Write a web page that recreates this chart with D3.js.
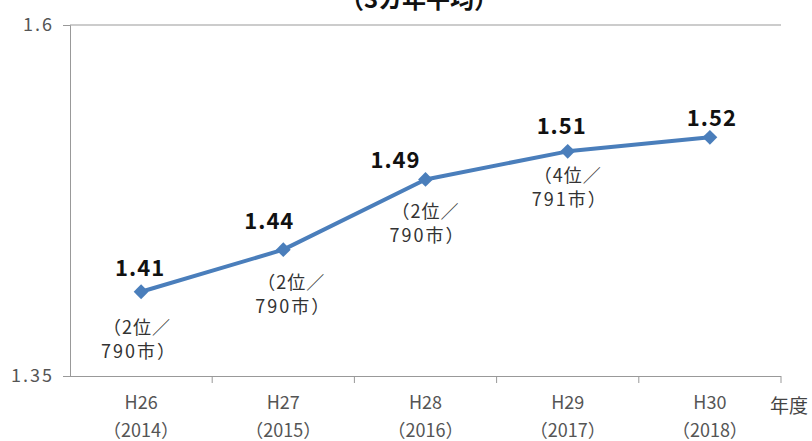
<!DOCTYPE html>
<html><head><meta charset="utf-8">
<script src="https://cdn.jsdelivr.net/npm/d3@7"></script>
<style>
html,body{margin:0;padding:0;background:#fff;}
svg{display:block;font-family:"Noto Sans CJK JP","Noto Sans",sans-serif;}
</style></head>
<body>
<svg id="chart" width="812" height="441"></svg>
<script>
const categories = ["H26", "H27", "H28", "H29", "H30"];
const yearLabels = ["（2014）", "（2015）", "（2016）", "（2017）", "（2018）"];
const values = [1.41, 1.44, 1.49, 1.51, 1.52];
const rankLine1 = ["（2位／", "（2位／", "（2位／", "（4位／", ""];
const rankLine2 = ["790市）", "790市）", "790市）", "791市）", ""];
const yTicks = [1.35, 1.6];
const title = "（3カ年平均）";
const unitLabel = "年度";

const svg = d3.select("#chart");
const mLeft = 70, mRight = 781, mTop = 25, mBottom = 376;

const x = d3.scaleBand().domain(categories).range([mLeft, mRight]).padding(0);
const y = d3.scaleLinear().domain([1.35, 1.6]).range([mBottom, mTop]);
const cx = d => x(d) + x.bandwidth() / 2;

// title (clipped at top in the reference)
svg.append("text").attr("x", 419).attr("y", 8)
  .attr("text-anchor", "middle").attr("font-size", 24).attr("font-weight", "bold")
  .attr("fill", "#111").text(title);

// top gridline
svg.append("line").attr("x1", mLeft).attr("x2", mRight)
  .attr("y1", y(1.6)).attr("y2", y(1.6)).attr("stroke", "#999").attr("stroke-width", 1);

// y axis
const yAxis = svg.append("g").attr("transform", `translate(${mLeft},0)`)
  .call(d3.axisLeft(y).tickValues(yTicks).tickSize(7).tickPadding(9)
    .tickFormat(d => d === 1.6 ? "1.6" : d3.format(".2f")(d)));
yAxis.select(".domain").attr("stroke", "#999");
yAxis.selectAll(".tick line").attr("stroke", "#999");
yAxis.selectAll(".tick text").attr("font-size", 18).attr("fill", "#555")
  .attr("font-family", "'Liberation Sans Narrow','Noto Sans CJK JP',sans-serif")
  .attr("letter-spacing", 2);

// x axis
const xAxis = svg.append("g").attr("transform", `translate(0,${mBottom})`)
  .call(d3.axisBottom(x).tickSize(0).tickFormat(""));
xAxis.select(".domain").attr("stroke", "#999").attr("d", `M${mLeft},0.5H${mRight}`);
xAxis.selectAll(".tick").remove();
const bounds = categories.map(c => x(c)).concat([x(categories[categories.length-1]) + x.bandwidth()]);
xAxis.selectAll("line.sep").data(bounds.slice(1)).enter().append("line")
  .attr("x1", d => d).attr("x2", d => d).attr("y1", 0).attr("y2", 7).attr("stroke", "#999");

const xl = svg.append("g");
xl.selectAll("text.cat").data(categories).enter().append("text")
  .attr("x", d => cx(d)).attr("y", 409).attr("text-anchor", "middle")
  .attr("font-size", 18).attr("fill", "#555").text(d => d);
xl.selectAll("text.yr").data(categories).enter().append("text")
  .attr("x", d => cx(d)).attr("y", 437).attr("text-anchor", "middle")
  .attr("font-size", 18).attr("fill", "#555").text((d, i) => yearLabels[i]);
svg.append("text").attr("x", 770).attr("y", 413).attr("font-size", 19)
  .attr("fill", "#444").text(unitLabel);

// line
const line = d3.line().x((d, i) => cx(categories[i])).y(d => y(d));
svg.append("path").datum(values).attr("d", line).attr("fill", "none")
  .attr("stroke", "#4a7ebb").attr("stroke-width", 4).attr("stroke-linejoin", "round");

// markers
svg.selectAll("path.mk").data(values).enter().append("path")
  .attr("d", d3.symbol().type(d3.symbolDiamond2).size(140))
  .attr("transform", (d, i) => `translate(${cx(categories[i])},${y(d)})`)
  .attr("fill", "#4a7ebb");

// value labels
const valOff = [[-1, -24], [-14, -29], [-30, -19], [-6, -25], [2, -19]];
svg.selectAll("text.val").data(values).enter().append("text")
  .attr("x", (d, i) => cx(categories[i]) + valOff[i][0])
  .attr("y", (d, i) => y(d) + valOff[i][1] + 8)
  .attr("text-anchor", "middle").attr("font-size", 22).attr("font-weight", "bold")
  .attr("fill", "#111").attr("letter-spacing", 1)
  .text(d => d.toFixed(2));

// rank labels
const rankOff = [[-4, 36], [8, 33], [0, 33], [0, 25]];
const rk = svg.append("g");
rankLine1.forEach((t, i) => {
  if (!t) return;
  const px = cx(categories[i]) + rankOff[i][0];
  const py = y(values[i]) + rankOff[i][1];
  rk.append("text").attr("x", px).attr("y", py + 6).attr("text-anchor", "middle")
    .attr("font-size", 18).attr("fill", "#333").attr("letter-spacing", 1).text(t);
  rk.append("text").attr("x", px + 2).attr("y", py + 30).attr("text-anchor", "middle")
    .attr("font-size", 18).attr("fill", "#333").attr("letter-spacing", 2).text(rankLine2[i]);
});
</script>
</body></html>
